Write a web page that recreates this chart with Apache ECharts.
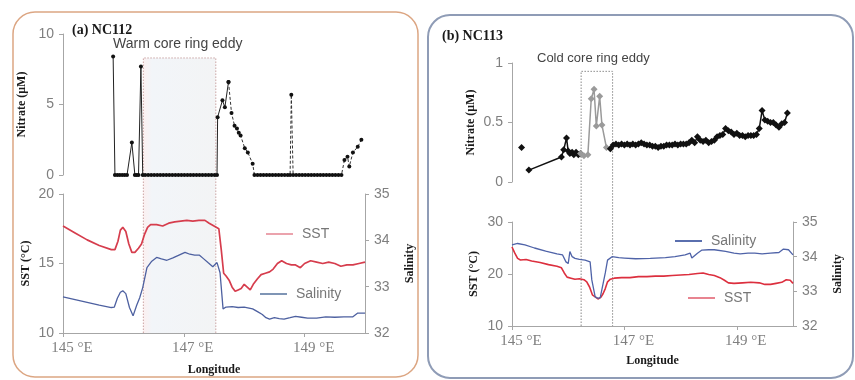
<!DOCTYPE html>
<html>
<head>
<meta charset="utf-8">
<script src="https://cdn.jsdelivr.net/npm/echarts@6/dist/echarts.min.js"></script>
<style>
html, body { margin: 0; padding: 0; background: #fff; }
#main { width: 855px; height: 380px; }
</style>
</head>
<body>
<div id="main"></div>
<script>
// ---- data: [longitude (°E), value] ----
// NC112 nitrate (uM), solid part then dashed part
var nc112NitrateA = [
  [145.83,8.4],[145.86,0],[145.9,0],[145.94,0],[145.98,0],[146.02,0],[146.06,0],[146.14,2.3],[146.19,0],
  [146.22,0],[146.25,0],[146.29,7.7],[146.32,0],[146.36,0],[146.41,0],[146.46,0],[146.51,0],[146.56,0],
  [146.61,0],[146.66,0],[146.71,0],[146.76,0],[146.81,0],[146.86,0],[146.91,0],[146.96,0],[147.01,0],
  [147.06,0],[147.11,0],[147.16,0],[147.21,0],[147.26,0],[147.31,0],[147.36,0],[147.41,0],[147.46,0],
  [147.51,0],[147.55,0],[147.56,4.1],[147.64,5.3],[147.68,4.8],[147.74,6.6]
];
var nc112NitrateB = [
  [147.74,6.6],[147.79,4.4],[147.84,3.5],[147.88,3.3],[147.91,3.0],[147.94,2.8],[148.01,1.9],[148.06,1.6],
  [148.14,0.8],[148.17,0],[148.22,0],[148.27,0],[148.32,0],[148.37,0],[148.42,0],[148.47,0],[148.52,0],
  [148.57,0],[148.62,0],[148.67,0],[148.72,0],[148.76,0],[148.78,5.7],[148.81,0],[148.86,0],[148.91,0],
  [148.96,0],[149.01,0],[149.06,0],[149.11,0],[149.16,0],[149.21,0],[149.26,0],[149.31,0],[149.36,0],
  [149.41,0],[149.46,0],[149.51,0],[149.56,0],[149.61,0],[149.66,1.06],[149.71,1.3],[149.74,0.6],
  [149.8,1.6],[149.88,2.0],[149.94,2.5]
];
// NC112 SST (°C)
var nc112Sst = [
  [145.0,17.7],[145.2,17.2],[145.4,16.7],[145.6,16.3],[145.8,16.0],[145.86,16.0],[145.91,16.6],[145.95,17.4],
  [145.99,17.6],[146.04,17.3],[146.09,16.4],[146.14,15.8],[146.19,15.8],[146.25,16.1],[146.3,16.4],
  [146.35,17.1],[146.4,17.6],[146.45,17.8],[146.55,17.8],[146.65,17.7],[146.75,17.9],[146.85,18.0],
  [146.95,18.05],[147.05,18.1],[147.15,18.05],[147.25,18.1],[147.35,18.1],[147.42,17.9],[147.5,17.7],
  [147.58,17.5],[147.62,16.0],[147.66,14.3],[147.7,14.1],[147.75,13.8],[147.8,13.3],[147.85,13.0],
  [147.9,13.1],[147.95,13.2],[148.0,13.5],[148.05,13.3],[148.1,13.1],[148.15,13.5],[148.22,13.9],
  [148.28,14.2],[148.35,14.3],[148.42,14.4],[148.48,14.6],[148.55,15.0],[148.62,15.2],[148.7,15.0],
  [148.78,14.9],[148.85,14.9],[148.93,14.7],[149.0,15.0],[149.1,15.2],[149.2,15.1],[149.3,15.0],
  [149.4,15.1],[149.5,15.0],[149.6,14.8],[149.7,14.9],[149.8,14.9],[149.9,15.0],[150.0,15.1]
];
// NC112 salinity
var nc112Sal = [
  [145.0,32.78],[145.2,32.72],[145.4,32.66],[145.6,32.6],[145.8,32.55],[145.85,32.56],[145.9,32.75],
  [145.95,32.88],[145.99,32.91],[146.04,32.85],[146.1,32.55],[146.16,32.37],[146.22,32.6],[146.27,32.76],
  [146.32,32.98],[146.39,33.41],[146.47,33.55],[146.55,33.63],[146.63,33.6],[146.72,33.57],[146.82,33.62],
  [146.92,33.68],[147.02,33.74],[147.1,33.7],[147.18,33.68],[147.26,33.68],[147.33,33.6],[147.4,33.52],
  [147.48,33.43],[147.55,33.52],[147.6,33.3],[147.65,32.52],[147.7,32.56],[147.8,32.57],[147.9,32.55],
  [148.0,32.56],[148.14,32.52],[148.22,32.46],[148.3,32.4],[148.36,32.33],[148.42,32.3],[148.5,32.33],
  [148.58,32.31],[148.66,32.3],[148.76,32.33],[148.85,32.36],[148.95,32.34],[149.05,32.32],[149.2,32.32],
  [149.35,32.35],[149.5,32.34],[149.65,32.35],[149.8,32.35],[149.88,32.43],[150.0,32.43]
];

// NC113 nitrate (uM): isolated first sample, black line, grey (in eddy), black line
var nc113NitrateFirst = [[145.17,0.29]];
var nc113NitrateA = [
  [145.3,0.10],[145.88,0.21],[145.92,0.27],[145.97,0.37],[146.0,0.26],
  [146.03,0.24],[146.07,0.25],[146.1,0.23],[146.14,0.25],[146.18,0.23],[146.22,0.24]
];
var nc113NitrateEddy = [
  [146.22,0.24],[146.28,0.22],[146.35,0.23],[146.41,0.70],[146.46,0.78],[146.5,0.47],[146.56,0.72],
  [146.6,0.48],[146.68,0.29],[146.75,0.28]
];
var nc113NitrateB = [
  [146.75,0.28],[146.8,0.31],[146.85,0.32],[146.9,0.31],[146.95,0.32],[147.0,0.31],[147.05,0.32],
  [147.1,0.31],[147.15,0.32],[147.2,0.31],[147.25,0.32],[147.3,0.33],[147.35,0.32],[147.4,0.31],
  [147.45,0.31],[147.5,0.30],[147.55,0.30],[147.6,0.29],[147.65,0.30],[147.7,0.30],[147.75,0.31],
  [147.8,0.31],[147.85,0.31],[147.9,0.32],[147.95,0.31],[148.0,0.32],[148.05,0.32],[148.1,0.32],
  [148.15,0.33],[148.2,0.35],[148.25,0.33],[148.3,0.38],[148.35,0.35],[148.4,0.34],[148.45,0.35],
  [148.5,0.33],[148.55,0.34],[148.6,0.35],[148.65,0.38],[148.7,0.39],[148.75,0.40],[148.8,0.45],
  [148.85,0.43],[148.9,0.42],[148.95,0.40],[149.0,0.41],[149.05,0.39],[149.1,0.39],[149.15,0.38],
  [149.2,0.39],[149.25,0.39],[149.3,0.39],[149.35,0.40],[149.4,0.45],[149.45,0.60],[149.5,0.52],
  [149.55,0.51],[149.6,0.50],[149.65,0.50],[149.7,0.48],[149.75,0.46],[149.8,0.49],[149.85,0.50],
  [149.9,0.58]
];
// NC113 SST (°C)
var nc113Sst = [
  [145.0,25.2],[145.05,24.0],[145.1,23.0],[145.15,22.7],[145.25,22.8],[145.35,22.5],[145.5,22.2],
  [145.65,21.8],[145.8,21.5],[145.88,21.2],[145.93,20.2],[145.98,19.4],[146.05,19.2],[146.12,19.0],
  [146.2,19.1],[146.28,18.9],[146.33,18.5],[146.38,17.5],[146.43,16.0],[146.48,15.6],[146.53,15.2],
  [146.58,15.5],[146.62,16.2],[146.66,17.2],[146.7,18.5],[146.75,19.0],[146.82,19.2],[146.95,19.3],
  [147.1,19.3],[147.25,19.5],[147.4,19.5],[147.55,19.6],[147.7,19.6],[147.85,19.7],[148.0,19.8],
  [148.15,19.9],[148.3,20.1],[148.4,20.2],[148.5,19.9],[148.6,19.7],[148.7,19.3],[148.78,18.8],
  [148.85,18.3],[148.95,18.2],[149.1,18.3],[149.25,18.4],[149.4,18.3],[149.5,18.0],[149.6,18.0],
  [149.7,18.2],[149.8,18.4],[149.88,18.9],[149.95,18.8],[150.0,18.2]
];
// NC113 salinity
var nc113Sal = [
  [145.0,34.34],[145.1,34.38],[145.23,34.34],[145.4,34.25],[145.6,34.16],[145.8,34.08],[145.9,34.05],
  [145.96,33.85],[146.0,33.8],[146.03,34.15],[146.07,34.0],[146.12,33.95],[146.2,33.92],[146.3,33.9],
  [146.39,33.85],[146.42,33.33],[146.48,32.84],[146.53,32.8],[146.57,32.82],[146.6,32.84],[146.66,33.53],
  [146.7,33.9],[146.78,34.0],[146.9,33.97],[147.0,33.96],[147.2,33.94],[147.46,33.95],[147.73,33.97],
  [147.9,34.0],[148.08,34.05],[148.17,34.1],[148.2,33.96],[148.3,34.1],[148.38,34.19],[148.5,34.2],
  [148.6,34.2],[148.8,34.15],[148.95,34.1],[149.06,34.08],[149.2,34.1],[149.32,34.1],[149.45,34.08],
  [149.6,34.1],[149.75,34.12],[149.83,34.22],[149.92,34.2],[150.0,34.05]
];

// eddy boxes: [west lon, east lon, top of box on nitrate axis]
var warmEddy = [146.33, 147.53, 8.3];
var coldEddy = [146.23, 146.79, 0.93];

var lonTicks = { min: 145, max: 150, interval: 2 };

var chart = echarts.init(document.getElementById('main'));

var axisGrey = '#a6a6a6';
var labelGrey = '#7f7f7f';
var nameStyle = { fontFamily: 'Liberation Serif', fontWeight: 'bold', fontSize: 12, color: '#1a1a1a' };

function yAx(gi, min, max, step, name, gap, pos) {
  return {
    type: 'value', gridIndex: gi, min: min, max: max, interval: step, position: pos || 'left',
    name: name, nameLocation: 'middle', nameGap: gap, nameTextStyle: nameStyle,
    axisLine: { show: true, lineStyle: { color: axisGrey } },
    axisTick: { show: true, length: 4, lineStyle: { color: axisGrey } },
    axisLabel: { color: labelGrey, fontSize: 14, fontFamily: 'Liberation Sans', margin: 9 },
    splitLine: { show: false }
  };
}
function xAx(gi, visible, gap) {
  return {
    type: 'value', gridIndex: gi, show: visible, min: lonTicks.min, max: lonTicks.max, interval: lonTicks.interval,
    name: 'Longitude', nameLocation: 'middle', nameGap: gap, nameTextStyle: nameStyle,
    axisLine: { show: true, onZero: false, lineStyle: { color: axisGrey } },
    axisTick: { show: true, length: 4, lineStyle: { color: axisGrey } },
    axisLabel: {
      color: labelGrey, fontSize: 15, fontFamily: 'Liberation Serif', margin: 8,
      padding: [0, 0, 0, 18], showMaxLabel: false,
      formatter: function (v) { return v + ' °E'; }
    },
    splitLine: { show: false }
  };
}
function lineSeries(name, xi, yi, data, color, width) {
  return {
    name: name, type: 'line', xAxisIndex: xi, yAxisIndex: yi, data: data,
    showSymbol: false, symbol: 'none', lineStyle: { color: color, width: width }, itemStyle: { color: color },
    z: 3
  };
}
function legendAt(name, left, top, color) {
  return {
    data: [{ name: name, itemStyle: { color: color } }], left: left, top: top, icon: 'rect',
    itemWidth: 27, itemHeight: 2, selectedMode: false, padding: 0,
    textStyle: { color: '#777', fontSize: 14, fontFamily: 'Liberation Sans', padding: [0, 0, 0, 4] }
  };
}

var option = {
  animation: false,
  title: [
    { text: '(a) NC112', left: 72, top: 23, padding: 0,
      textStyle: { fontFamily: 'Liberation Serif', fontWeight: 'bold', fontSize: 14, color: '#1a1a1a' } },
    { text: 'Warm core ring eddy', left: 113, top: 37, padding: 0,
      textStyle: { fontFamily: 'Liberation Sans', fontWeight: 'normal', fontSize: 14, color: '#444' } },
    { text: '(b) NC113', left: 442, top: 29, padding: 0,
      textStyle: { fontFamily: 'Liberation Serif', fontWeight: 'bold', fontSize: 14, color: '#1a1a1a' } },
    { text: 'Cold core ring eddy', left: 537, top: 52, padding: 0,
      textStyle: { fontFamily: 'Liberation Sans', fontWeight: 'normal', fontSize: 13, color: '#444' } }
  ],
  legend: [
    legendAt('SST', 266, 227, '#eba3ad'),
    legendAt('Salinity', 260, 287, '#7f95b5'),
    legendAt('Salinity', 675, 234, '#5a6fae'),
    legendAt('SST', 688, 291, '#e88490')
  ],
  grid: [
    { left: 63, top: 34, width: 302, height: 141 },
    { left: 63, top: 194, width: 302, height: 139 },
    { left: 512, top: 63, width: 281, height: 119 },
    { left: 512, top: 222, width: 281, height: 104 }
  ],
  xAxis: [xAx(0, false, 0), xAx(1, true, 31), xAx(2, false, 0), xAx(3, true, 29)],
  yAxis: [
    yAx(0, 0, 10, 5, 'Nitrate (μM)', 35),
    yAx(1, 10, 20, 5, 'SST (°C)', 31),
    yAx(1, 32, 35, 1, 'Salinity', 39, 'right'),
    yAx(2, 0, 1, 0.5, 'Nitrate (μM)', 35),
    yAx(3, 10, 30, 10, 'SST (°C)', 32),
    yAx(3, 32, 35, 1, 'Salinity', 39, 'right')
  ],
  series: [
    { name: 'Nitrate', type: 'line', xAxisIndex: 0, yAxisIndex: 0, data: nc112NitrateA,
      symbol: 'circle', symbolSize: 4, lineStyle: { color: '#222', width: 1 }, itemStyle: { color: '#111' }, z: 4 },
    { name: 'Nitrate', type: 'line', xAxisIndex: 0, yAxisIndex: 0, data: nc112NitrateB,
      symbol: 'circle', symbolSize: 4, lineStyle: { color: '#333', width: 1, type: [3, 2] }, itemStyle: { color: '#111' }, z: 4 },
    lineSeries('SST', 1, 1, nc112Sst, '#d63d4d', 1.7),
    lineSeries('Salinity', 1, 2, nc112Sal, '#4d60a0', 1.3),
    { name: 'Nitrate', type: 'line', xAxisIndex: 2, yAxisIndex: 3, data: nc113NitrateFirst,
      symbol: 'diamond', symbolSize: 7, itemStyle: { color: '#111' }, z: 4 },
    { name: 'Nitrate', type: 'line', xAxisIndex: 2, yAxisIndex: 3, data: nc113NitrateA,
      symbol: 'diamond', symbolSize: 7, lineStyle: { color: '#111', width: 1.5 }, itemStyle: { color: '#111' }, z: 4 },
    { name: 'Nitrate', type: 'line', xAxisIndex: 2, yAxisIndex: 3, data: nc113NitrateEddy,
      symbol: 'diamond', symbolSize: 7, lineStyle: { color: '#9a9a9a', width: 1.5 }, itemStyle: { color: '#9a9a9a' }, z: 4 },
    { name: 'Nitrate', type: 'line', xAxisIndex: 2, yAxisIndex: 3, data: nc113NitrateB,
      symbol: 'diamond', symbolSize: 7, lineStyle: { color: '#111', width: 1.5 }, itemStyle: { color: '#111' }, z: 4 },
    lineSeries('SST', 3, 4, nc113Sst, '#dc2f3e', 1.6),
    lineSeries('Salinity', 3, 5, nc113Sal, '#4f63a8', 1.3)
  ]
};
chart.setOption(option);

// eddy boxes placed through the axes' own scales
var w1 = chart.convertToPixel({ xAxisIndex: 0, yAxisIndex: 0 }, [warmEddy[0], warmEddy[2]]);
var w2 = chart.convertToPixel({ xAxisIndex: 1, yAxisIndex: 1 }, [warmEddy[1], 10]);
var c1 = chart.convertToPixel({ xAxisIndex: 2, yAxisIndex: 3 }, [coldEddy[0], coldEddy[2]]);
var c2 = chart.convertToPixel({ xAxisIndex: 3, yAxisIndex: 4 }, [coldEddy[1], 10]);
var dot = { stroke: '#aaaaaa', lineWidth: 1, lineDash: [1.5, 1.5], fill: null };

chart.setOption({
  graphic: [
    { type: 'rect', z: 0, shape: { x: 13, y: 12, width: 405, height: 365, r: 22 },
      style: { fill: null, stroke: '#dca683', lineWidth: 1.5 } },
    { type: 'rect', z: 0, shape: { x: 428, y: 15, width: 425, height: 363, r: 22 },
      style: { fill: null, stroke: '#8f9cb6', lineWidth: 2 } },
    { type: 'rect', z: 1, shape: { x: w1[0], y: w1[1], width: w2[0] - w1[0], height: w2[1] - w1[1] },
      style: { stroke: null, fill: new echarts.graphic.LinearGradient(0, 0, 1, 0, [
        { offset: 0, color: '#fcf0f0' }, { offset: 0.12, color: '#f2f5f9' }, { offset: 1, color: '#f3f4f5' }]) } },
    { type: 'polyline', z: 1, shape: { points: [[w1[0], w2[1]], [w1[0], w1[1]], [w2[0], w1[1]], [w2[0], w2[1]]] },
      style: Object.assign({}, dot, { stroke: '#c9a3a3' }) },
    { type: 'polyline', z: 1, shape: { points: [[c1[0], c2[1]], [c1[0], c1[1]], [c2[0], c1[1]], [c2[0], c2[1]]] },
      style: Object.assign({}, dot, { stroke: '#8a8a8a' }) }
  ]
});
</script>
</body>
</html>
